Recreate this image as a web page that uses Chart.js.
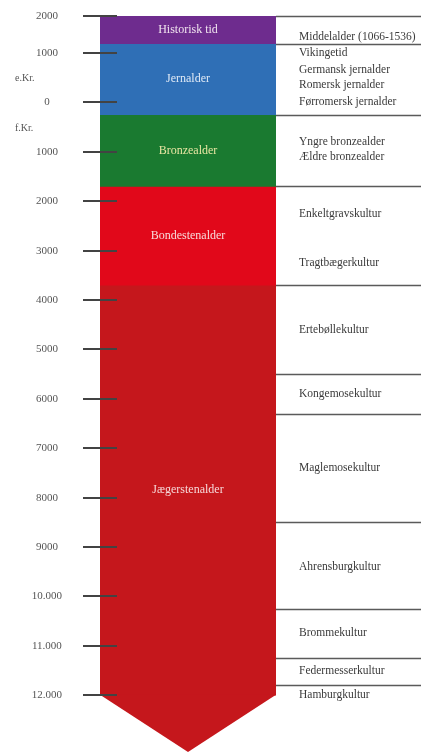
<!DOCTYPE html>
<html lang="da">
<head>
<meta charset="utf-8">
<title>Danmarks oldtid – tidslinje</title>
<script src="https://cdn.jsdelivr.net/npm/chart.js@4/dist/chart.umd.min.js"></script>
<style>
  html, body { margin: 0; padding: 0; background: #fff; }
  #wrap { width: 421px; height: 754px; position: relative; }
</style>
</head>
<body>
<div id="wrap"><canvas id="timeline"></canvas></div>
<script>
// ── Data (år: e.Kr. positiv, f.Kr. negativ) ────────────────────────────────
const tickValues = [2000, 1000, 0, -1000, -2000, -3000, -4000, -5000, -6000, -7000, -8000, -9000, -10000, -11000, -12000];
const tickLabels = ["2000", "1000", "0", "1000", "2000", "3000", "4000", "5000", "6000", "7000", "8000", "9000", "10.000", "11.000", "12.000"];

const eraLabels = ["e.Kr.", "f.Kr."];
const eraValues = [480, -530];

const periodNames  = ["Historisk tid", "Jernalder", "Bronzealder", "Bondestenalder", "Jægerstenalder"];
const periodStart  = [1250, -250, -1700, -3700, -12000];
const periodEnd    = [2000, 1250, -250, -1700, -3700];
const arrowTip     = -13150;

const cultureNames = [
  "Middelalder (1066-1536)", "Vikingetid", "Germansk jernalder", "Romersk jernalder", "Førromersk jernalder",
  "Yngre bronzealder", "Ældre bronzealder", "Enkeltgravskultur", "Tragtbægerkultur", "Ertebøllekultur",
  "Kongemosekultur", "Maglemosekultur", "Ahrensburgkultur", "Brommekultur", "Federmesserkultur", "Hamburgkultur"
];
const cultureValues = [1430, 1000, 650, 350, 0, -800, -1100, -2250, -3250, -4600, -5900, -7400, -9400, -10750, -11500, -12000];
const cultureBounds = [2000, 1250, -250, -1700, -3700, -5500, -6300, -8500, -10250, -11250, -11800];

// ── Styles ─────────────────────────────────────────────────────────────────
const periodColors = ["#6e2c8e", "#2f6fb6", "#1a7a30", "#e1081a", "#c5171c"];
const labelColors  = ["#f1e4ef", "#dfe9f6", "#e9e6a3", "#f8dada", "#f6d8d8"];
const FONT = "'Liberation Serif', 'DejaVu Serif', serif";

// ── Scale: the figure squeezes the historic span above 1000 e.Kr. ─────────
const squash   = v => v > 1000 ? 1000 + (v - 1000) * 0.75 : v;
const unsquash = v => v > 1000 ? 1000 + (v - 1000) / 0.75 : v;

class TimelineScale extends Chart.LinearScale {
  getPixelForValue(value) {
    if (value === null || value === undefined) return NaN;
    return this.getPixelForDecimal((squash(value) - this.min) / (squash(this.max) - this.min));
  }
  getValueForPixel(pixel) {
    return unsquash(this.min + this.getDecimalForPixel(pixel) * (squash(this.max) - this.min));
  }
}
TimelineScale.id = "timeline";
TimelineScale.defaults = Chart.LinearScale.defaults;
Chart.register(TimelineScale);

// fixed axis width, no extra top/bottom padding from the tick labels
const fitAxis = w => s => { s.width = w; s.paddingTop = 0; s.paddingBottom = 0; };

// ── Decorations drawn on top of the bars ──────────────────────────────────
const timelineDecor = {
  id: "timelineDecor",
  afterDatasetsDraw(chart) {
    const { ctx, chartArea, scales } = chart;
    const y = scales.y;
    ctx.save();

    // chevron below the last period
    const last = chart.getDatasetMeta(periodNames.length - 1).data[0];
    const half = last.width / 2;
    const baseY = Math.max(last.y, last.base);
    ctx.fillStyle = periodColors[periodColors.length - 1];
    ctx.beginPath();
    ctx.moveTo(last.x - half, baseY - 0.5);
    ctx.lineTo(last.x, y.getPixelForValue(arrowTip));
    ctx.lineTo(last.x + half, baseY - 0.5);
    ctx.closePath();
    ctx.fill();

    // period names in the middle of each bar
    ctx.font = "12px " + FONT;
    ctx.textAlign = "center";
    ctx.textBaseline = "middle";
    periodNames.forEach((name, i) => {
      const bar = chart.getDatasetMeta(i).data[0];
      ctx.fillStyle = labelColors[i];
      ctx.fillText(name, bar.x, (bar.y + bar.base) / 2);
    });

    // tick marks crossing the left edge of the column
    ctx.strokeStyle = "#434343";
    ctx.lineWidth = 2;
    tickValues.forEach(v => {
      const py = Math.round(y.getPixelForValue(v));
      ctx.beginPath();
      ctx.moveTo(chartArea.left - 17, py);
      ctx.lineTo(chartArea.left + 17, py);
      ctx.stroke();
    });

    // culture boundaries on the right
    ctx.strokeStyle = "#5a5a5a";
    ctx.lineWidth = 1.3;
    cultureBounds.forEach(v => {
      const py = Math.round(y.getPixelForValue(v)) + 0.5;
      ctx.beginPath();
      ctx.moveTo(chartArea.right, py);
      ctx.lineTo(chart.width, py);
      ctx.stroke();
    });

    // e.Kr. / f.Kr.
    ctx.font = "10px " + FONT;
    ctx.textAlign = "left";
    ctx.fillStyle = "#555";
    eraLabels.forEach((t, i) => ctx.fillText(t, 15, y.getPixelForValue(eraValues[i])));

    ctx.restore();
  }
};

const datasets = periodNames.map((name, i) => ({
  label: name,
  data: [[periodStart[i], periodEnd[i]]],
  backgroundColor: periodColors[i],
  borderWidth: 0,
  barPercentage: 1,
  categoryPercentage: 1,
  grouped: false
}));

new Chart(document.getElementById("timeline"), {
  type: "bar",
  data: { labels: ["Tidslinje"], datasets },
  options: {
    responsive: true,
    maintainAspectRatio: false,
    animation: false,
    layout: { padding: { top: 16, bottom: 2, left: 0, right: 0 } },
    plugins: { legend: { display: false }, tooltip: { enabled: false } },
    scales: {
      x: { display: false },
      y: {
        type: "timeline",
        position: "left",
        min: arrowTip, max: 2000,
        grid: { display: false, drawTicks: false },
        border: { display: false },
        afterBuildTicks: s => { s.ticks = tickValues.map(v => ({ value: v })); },
        afterFit: fitAxis(100),
        ticks: {
          autoSkip: false,
          padding: 38,
          crossAlign: "center",
          color: "#555",
          font: { family: FONT, size: 11 },
          callback: (v, i) => tickLabels[i]
        }
      },
      y2: {
        type: "timeline",
        position: "right",
        min: arrowTip, max: 2000,
        grid: { display: false, drawTicks: false },
        border: { display: false },
        afterBuildTicks: s => { s.ticks = cultureValues.map(v => ({ value: v })); },
        afterFit: fitAxis(145),
        ticks: {
          autoSkip: false,
          padding: 23,
          color: "#3a3a3a",
          font: { family: FONT, size: 11.5 },
          callback: (v, i) => cultureNames[i]
        }
      }
    }
  },
  plugins: [timelineDecor]
});
</script>
</body>
</html>
